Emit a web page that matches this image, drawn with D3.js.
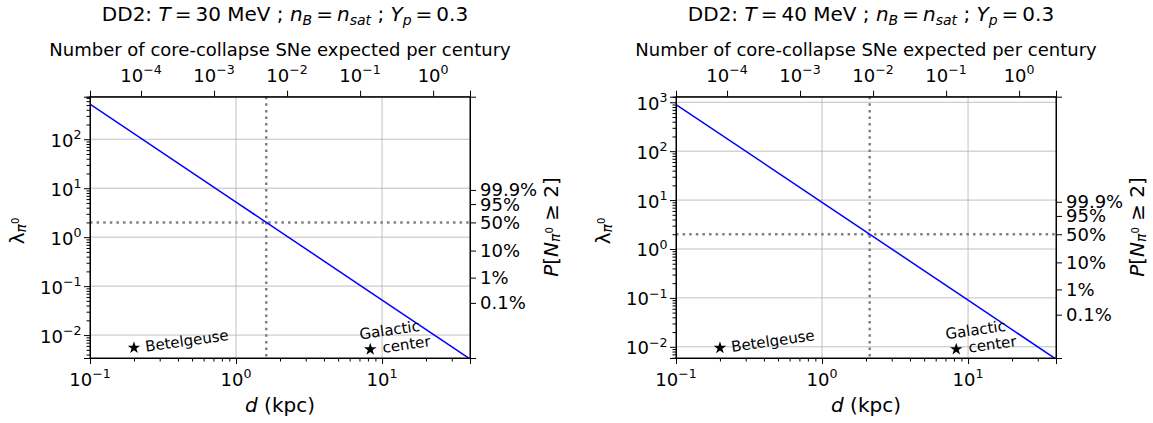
<!DOCTYPE html>
<html>
<head>
<meta charset="utf-8">
<script src="https://cdn.jsdelivr.net/npm/d3@7"></script>
<style>
  body { margin: 0; background: #fff; }
  svg { font-family: "DejaVu Sans", sans-serif; }
</style>
</head>
<body>
<svg width="1153" height="423"></svg>
<script>
// distance grid (kpc) and expected number of pi0 for the two temperatures
const distances = [0.1, 1, 10, 40]
const lambdaT30 = [520, 5.2, 0.052, 0.00325]
const lambdaT40 = [900, 9, 0.09, 0.0056]
const crossingT30 = 1.61
const crossingT40 = 2.12
const lambdaThreshold = 2

const xLimits = [0.1, 40]
const yLimitsT30 = [0.0034, 740]
const yLimitsT40 = [0.0059, 1300]
const distanceTicks = [0.1, 1, 10]
const lambdaTicksT30 = [1e-2, 1e-1, 1, 10, 100]
const lambdaTicksT40 = [1e-2, 1e-1, 1, 10, 100, 1000]

// top axis: SNe per century inside distance d (values at the x limits)
const snLimits = [2e-5, 3.2]
const snTicks = [1e-4, 1e-3, 1e-2, 1e-1, 1]

// right axis: probability of at least two pi0
const probLabels = ['99.9%', '95%', '50%', '10%', '1%', '0.1%']
const probLambda = [9.23, 4.74, 2, 0.532, 0.149, 0.0454]

const landmarks = ['Betelgeuse', 'Galactic center']
const landmarkDistance = [0.2, 8.3]
const landmarkLambdaT30 = [0.0055, 0.0051]
const landmarkLambdaT40 = [0.0095, 0.0089]

const temperatures = ['30', '40']

const svg = d3.select('svg')
const plotW = 380
const plotTop = 96.7
const plotBottom = 358
const tickFont = 18

function rich(text, parts, fs) {
  let prev = 0
  parts.forEach(p => {
    const off = (p.o || 0) * fs
    text.append('tspan')
      .attr('dy', off - prev)
      .attr('font-size', (p.s || 1) * fs)
      .attr('font-style', p.i ? 'italic' : null)
      .text(p.t)
    prev = off
  })
}

function powerLabel(v) {
  const e = Math.round(Math.log10(v))
  return [{ t: '10' }, { t: String(e).replace('-', '\u2212'), o: -0.42, s: 0.7 }]
}

function drawPanel(left, temp, lambdas, crossing, yLimits, lambdaTicks, starLambda) {
  const g = svg.append('g').attr('transform', `translate(${left},0)`)
  const x = d3.scaleLog().domain(xLimits).range([0, plotW])
  const y = d3.scaleLog().domain(yLimits).range([plotBottom, plotTop])
  const top = d3.scaleLog().domain(snLimits).range([0, plotW])
  const cx = plotW / 2

  const clipId = 'clip' + temp
  g.append('clipPath').attr('id', clipId)
    .append('rect').attr('x', 0).attr('y', plotTop).attr('width', plotW).attr('height', plotBottom - plotTop)

  // grid
  g.append('g').selectAll('line').data(distanceTicks.slice(1)).enter().append('line')
    .attr('x1', d => x(d)).attr('x2', d => x(d)).attr('y1', plotTop).attr('y2', plotBottom)
    .attr('stroke', '#b0b0b0').attr('stroke-width', 0.8)
  g.append('g').selectAll('line').data(lambdaTicks).enter().append('line')
    .attr('x1', 0).attr('x2', plotW).attr('y1', d => y(d)).attr('y2', d => y(d))
    .attr('stroke', '#b0b0b0').attr('stroke-width', 0.8)

  // threshold lines
  g.append('line').attr('x1', 0).attr('x2', plotW)
    .attr('y1', y(lambdaThreshold)).attr('y2', y(lambdaThreshold))
    .attr('stroke', '#808080').attr('stroke-width', 2.5).attr('stroke-dasharray', '2.5,4.1')
  g.append('line').attr('x1', x(crossing)).attr('x2', x(crossing))
    .attr('y1', plotTop).attr('y2', plotBottom)
    .attr('stroke', '#808080').attr('stroke-width', 2.5).attr('stroke-dasharray', '2.5,4.1')

  // lambda(d)
  g.append('path')
    .datum(distances.map((d, i) => [d, lambdas[i]]))
    .attr('clip-path', `url(#${clipId})`)
    .attr('fill', 'none').attr('stroke', '#0000ff').attr('stroke-width', 1.5)
    .attr('d', d3.line().x(d => x(d[0])).y(d => y(d[1])))

  // landmarks
  landmarks.forEach((name, i) => {
    const sx = x(landmarkDistance[i])
    const sy = y(starLambda[i])
    g.append('path').attr('d', d3.symbol(d3.symbolStar, 48)())
      .attr('transform', `translate(${sx},${sy})`).attr('fill', '#000')
    const lines = i === 0 ? [[12, 4]] : [[-10, -10], [13, 3.5]]
    const words = i === 0 ? [name] : name.split(' ')
    words.forEach((w, j) => {
      const tx = sx + lines[j][0], ty = sy + lines[j][1]
      g.append('text').attr('x', tx).attr('y', ty)
        .attr('transform', `rotate(-8,${tx},${ty})`)
        .attr('font-size', 15).text(w)
    })
  })

  // bottom axis
  g.append('g').attr('transform', `translate(0,${plotBottom})`)
    .call(d3.axisBottom(x).tickValues(x.ticks().filter(d => !distanceTicks.includes(d))).tickSize(3.5).tickFormat(''))
  g.append('g').attr('transform', `translate(0,${plotBottom})`)
    .call(d3.axisBottom(x).tickValues(distanceTicks).tickSize(6).tickFormat(''))
  distanceTicks.forEach(d => {
    const t = g.append('text').attr('x', x(d)).attr('y', 385.5).attr('text-anchor', 'middle')
    rich(t, powerLabel(d), tickFont)
  })

  // left axis
  g.append('g')
    .call(d3.axisLeft(y).tickValues(y.ticks().filter(d => !lambdaTicks.some(m => Math.abs(m - d) / m < 1e-6))).tickSize(3.5).tickFormat(''))
  g.append('g').call(d3.axisLeft(y).tickValues(lambdaTicks).tickSize(6).tickFormat(''))
  lambdaTicks.forEach(d => {
    const t = g.append('text').attr('x', -8.5).attr('y', y(d) + 7.5).attr('text-anchor', 'end')
    rich(t, powerLabel(d), tickFont)
  })

  // top axis
  g.append('g').attr('transform', `translate(0,${plotTop})`)
    .call(d3.axisTop(top).tickValues(snTicks).tickSize(6).tickFormat(''))
  snTicks.forEach(d => {
    const t = g.append('text').attr('x', top(d)).attr('y', 81.7).attr('text-anchor', 'middle')
    rich(t, powerLabel(d), tickFont)
  })

  // right axis
  g.append('g').attr('transform', `translate(${plotW},0)`)
    .call(d3.axisRight(y).tickValues(probLambda).tickSize(6).tickFormat(''))
  probLabels.forEach((p, i) => {
    g.append('text').attr('x', plotW + 10).attr('y', y(probLambda[i]) + 6.5)
      .attr('font-size', tickFont).text(p)
  })

  g.selectAll('.domain').attr('stroke', '#000')
  g.selectAll('.tick line').attr('stroke', '#000')

  // frame
  g.append('rect').attr('x', 0).attr('y', plotTop).attr('width', plotW).attr('height', plotBottom - plotTop)
    .attr('fill', 'none').attr('stroke', '#000').attr('stroke-width', 1)

  // titles and labels
  const title = g.append('text').attr('x', cx + 5).attr('y', 21).attr('text-anchor', 'middle')
  rich(title, [
    { t: 'DD2: ' }, { t: 'T', i: 1 }, { t: '\u2009=\u2009' + temp + ' MeV ; ' },
    { t: 'n', i: 1 }, { t: 'B', i: 1, o: 0.22, s: 0.7 }, { t: '\u2009=\u2009' },
    { t: 'n', i: 1 }, { t: 'sat', i: 1, o: 0.22, s: 0.7 }, { t: ' ; ' },
    { t: 'Y', i: 1 }, { t: 'p', i: 1, o: 0.22, s: 0.7 }, { t: '\u2009=\u20090.3' }
  ], 20)

  g.append('text').attr('x', cx).attr('y', 55.5).attr('text-anchor', 'middle')
    .attr('font-size', 18).text('Number of core-collapse SNe expected per century')

  const xl = g.append('text').attr('x', cx).attr('y', 411.5).attr('text-anchor', 'middle')
  rich(xl, [{ t: 'd', i: 1 }, { t: ' (kpc)' }], 20)

  const yl = g.append('text').attr('transform', `translate(${-66},231) rotate(-90)`).attr('text-anchor', 'middle')
  rich(yl, [{ t: '\u03bb' }, { t: '\u03c0', i: 1, o: 0.1, s: 0.7 }, { t: '0', o: -0.25, s: 0.5 }], 20)

  const pl = g.append('text').attr('transform', `translate(${plotW + 88},227) rotate(-90)`).attr('text-anchor', 'middle')
  rich(pl, [{ t: 'P', i: 1 }, { t: '[' }, { t: 'N', i: 1 }, { t: '\u03c0', i: 1, o: 0.1, s: 0.7 },
    { t: '0', o: -0.25, s: 0.5 }, { t: ' \u2265 2]' }], 20)
}

drawPanel(90, temperatures[0], lambdaT30, crossingT30, yLimitsT30, lambdaTicksT30, landmarkLambdaT30)
drawPanel(676, temperatures[1], lambdaT40, crossingT40, yLimitsT40, lambdaTicksT40, landmarkLambdaT40)
</script>
</body>
</html>
